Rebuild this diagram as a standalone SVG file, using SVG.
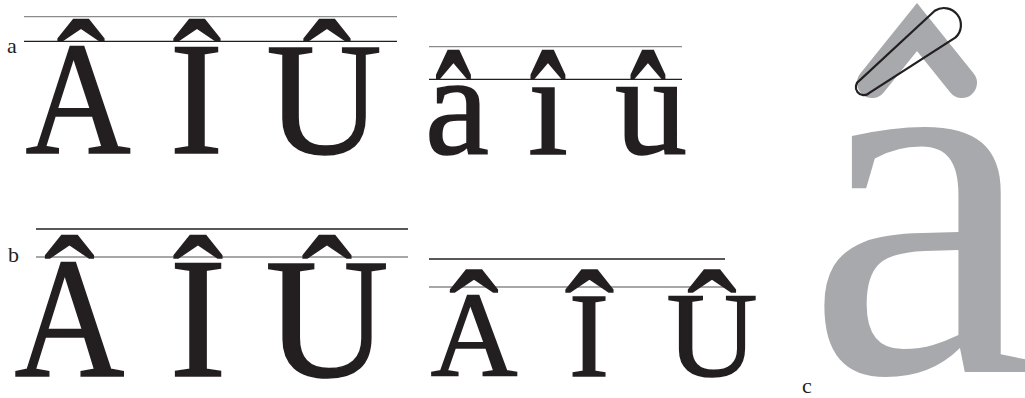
<svg xmlns="http://www.w3.org/2000/svg" width="1025" height="398" viewBox="0 0 1025 398">
<style>
.t{font-family:"Liberation Serif","Times New Roman",serif;fill:#231f20;stroke:#231f20;stroke-width:1.6;text-anchor:middle}
.acc{font-family:"Liberation Serif","Times New Roman",serif;fill:#231f20;stroke:#231f20;stroke-width:1.4;text-anchor:middle}
.lbl{font-family:"Liberation Serif","Times New Roman",serif;fill:#231f20;font-size:22px}
.lk{stroke:#231f20;stroke-width:1.3}
.lg{stroke:#8a8a8a;stroke-width:1.3}
</style>
<rect width="1025" height="398" fill="#ffffff"/>
<g id="panel-a">
  <text class="lbl" x="7" y="53">a</text>
  <line class="lg" x1="24" y1="16.7" x2="397" y2="16.7"/>
  <line class="lk" x1="24" y1="41.3" x2="397" y2="41.3"/>
  <text class="acc" x="81" y="119.7" font-size="145">ˆ</text>
  <text class="acc" x="197" y="119.7" font-size="145">ˆ</text>
  <text class="acc" x="327" y="119.7" font-size="145">ˆ</text>
  <text class="t" transform="translate(78,153) scale(0.91,1)" font-size="160">A</text>
  <text class="t" x="196.5" y="153" font-size="160">I</text>
  <text class="t" x="324" y="153" font-size="160">U</text>
  <line class="lg" x1="429" y1="46.7" x2="682" y2="46.7"/>
  <line class="lk" x1="429" y1="79.3" x2="682" y2="79.3"/>
  <text class="acc" transform="translate(453.5,176.5) scale(1,1.69)" font-size="106">ˆ</text>
  <text class="acc" transform="translate(548,176.5) scale(1,1.69)" font-size="106">ˆ</text>
  <text class="acc" transform="translate(648,176.5) scale(1,1.69)" font-size="106">ˆ</text>
  <text class="t" x="457" y="154" font-size="144">a</text>
  <text class="t" x="548" y="154" font-size="144">ı</text>
  <text class="t" x="651" y="154" font-size="144">u</text>
</g>
<g id="panel-b">
  <text class="lbl" x="8" y="261.7">b</text>
  <line class="lk" x1="36" y1="229" x2="408" y2="229"/>
  <line class="lg" x1="36" y1="257" x2="408" y2="257"/>
  <text class="acc" x="69.5" y="339.8" font-size="151">ˆ</text>
  <text class="acc" x="198" y="339.8" font-size="151">ˆ</text>
  <text class="acc" x="327" y="339.8" font-size="151">ˆ</text>
  <text class="t" transform="translate(69.5,376) scale(0.89,1)" font-size="171">A</text>
  <text class="t" x="198" y="376" font-size="171">I</text>
  <text class="t" x="327" y="376" font-size="171">U</text>
  <line class="lk" x1="429" y1="259" x2="725" y2="259"/>
  <line class="lg" x1="429" y1="287" x2="725" y2="287"/>
  <text class="acc" x="474" y="373.1" font-size="148">ˆ</text>
  <text class="acc" x="589.5" y="373.1" font-size="148">ˆ</text>
  <text class="acc" x="712" y="373.1" font-size="148">ˆ</text>
  <text class="t" x="474" y="376" font-size="120">A</text>
  <text class="t" x="589" y="376" font-size="120">I</text>
  <text class="t" transform="translate(712,376) scale(1.05,1)" font-size="120">U</text>
</g>
<g id="panel-c">
  <text x="806" y="372" font-size="522" font-family="Liberation Serif, Times New Roman, serif" fill="#a7a9ac">a</text>
  <polyline points="872,83 917,27 962,83" fill="none" stroke="#a7a9ac" stroke-width="30" stroke-linecap="round" stroke-linejoin="miter"/>
  <path d="M934.8,10.7 L859.7,80.3 A8 8 0 1 0 869.4,92.9 L955.6,37.4 A17 17 0 0 0 934.8,10.7 Z" fill="none" stroke="#231f20" stroke-width="2.2"/>
  <text class="lbl" x="802" y="393">c</text>
</g>
</svg>
